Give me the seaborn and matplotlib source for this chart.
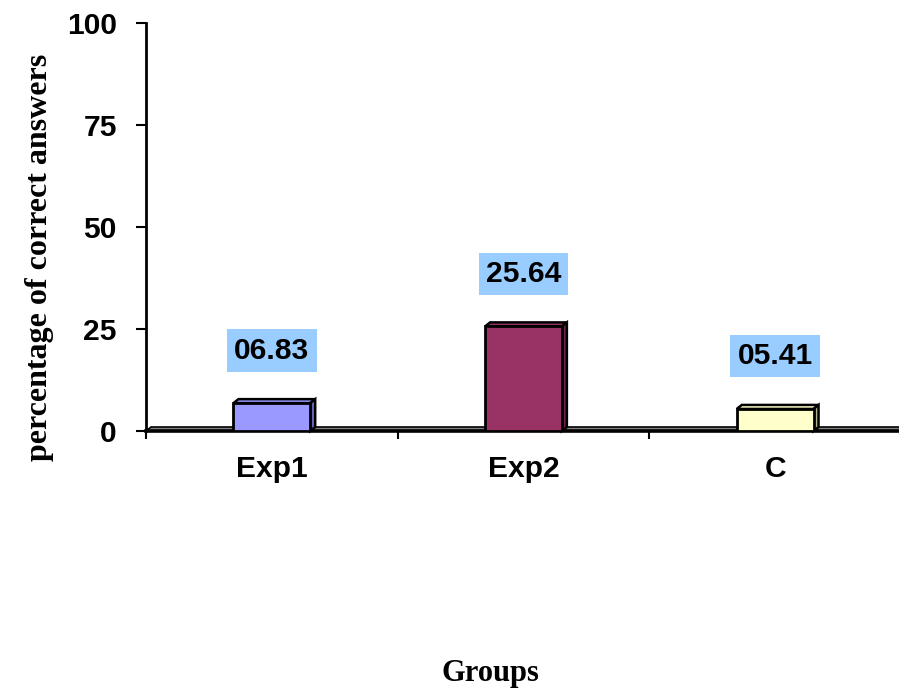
import matplotlib
matplotlib.use("Agg")
import matplotlib.pyplot as plt
from matplotlib.patches import Polygon
import seaborn as sns

# Data
groups = ["Exp1", "Exp2", "C"]
values = [6.83, 25.64, 5.41]
value_labels = ["06.83", "25.64", "05.41"]
yticks = [0, 25, 50, 75, 100]

face_colors = ["#9999FF", "#993366", "#FFFFCC"]
side_colors = ["#6666B8", "#6B2447", "#B3B38C"]
label_bg = "#99CCFF"

sns.set_style("white")
plt.rcParams["font.family"] = ["Liberation Sans", "DejaVu Sans"]
plt.rcParams["text.color"] = "black"
plt.rcParams["axes.labelcolor"] = "black"
plt.rcParams["xtick.color"] = "black"
plt.rcParams["ytick.color"] = "black"

W, H = 899, 692
fig = plt.figure(figsize=(W / 100, H / 100), dpi=100)
ax = fig.add_axes([146 / W, (H - 431) / H, (901 - 146) / W, (431 - 23) / H])

sns.barplot(x=groups, y=values, hue=groups, palette=face_colors, width=0.305,
            saturation=1, edgecolor="black", linewidth=2, legend=False, ax=ax, zorder=3)

ax.set_xlim(-0.5, 2.5)
ax.set_ylim(0, 100)

# depth of the pseudo-3D extrusion, in data units
dx = 5 / 252.0
dy = 4 / 4.08

# floor band
floor = Polygon([(-0.5, 0), (2.5, 0), (2.5 + dx, dy), (-0.5 + dx, dy)],
                closed=True, facecolor="#808080", edgecolor="black",
                linewidth=1.2, zorder=1, clip_on=False)
ax.add_patch(floor)

for patch, side in zip(ax.patches[:len(values)], side_colors):
    x0 = patch.get_x()
    w = patch.get_width()
    h = patch.get_height()
    fc = patch.get_facecolor()
    top = Polygon([(x0, h), (x0 + w, h), (x0 + w + dx, h + dy), (x0 + dx, h + dy)],
                  closed=True, facecolor=fc, edgecolor="black", linewidth=1.8,
                  zorder=2.9, clip_on=False)
    right = Polygon([(x0 + w, 0), (x0 + w + dx, dy), (x0 + w + dx, h + dy), (x0 + w, h)],
                    closed=True, facecolor=side, edgecolor="black", linewidth=1.8,
                    zorder=2.9, clip_on=False)
    ax.add_patch(top)
    ax.add_patch(right)

# value labels in blue boxes
for i, (v, txt) in enumerate(zip(values, value_labels)):
    ax.text(i, v + 12.9, txt, ha="center", va="center", fontsize=21.6,
            fontweight="bold", color="black", zorder=5,
            bbox=dict(boxstyle="square,pad=0.24", facecolor=label_bg, edgecolor="none"))

# spines
for s in ["top", "right"]:
    ax.spines[s].set_visible(False)
ax.spines["left"].set_linewidth(2)
ax.spines["left"].set_color("black")
ax.spines["bottom"].set_linewidth(2.6)
ax.spines["bottom"].set_color("black")
ax.spines["bottom"].set_zorder(2)

ax.set_yticks(yticks)
ax.set_yticklabels([str(t) for t in yticks], fontsize=21.6, fontweight="bold")
ax.tick_params(axis="y", direction="out", length=7, width=1.5, pad=14, color="black",
               labelcolor="black", left=True)

ax.set_xticks(range(len(groups)))
ax.set_xticklabels(groups, fontsize=21.6, fontweight="bold")
ax.set_xticks([-0.5, 0.5, 1.5, 2.5], minor=True)
ax.tick_params(axis="x", which="major", length=0, pad=17, labelcolor="black")
ax.tick_params(axis="x", which="minor", direction="out", length=6, width=1.5,
               color="black", bottom=True)
ax.set_xlabel("")
ax.set_ylabel("")

fig.text(40 / W, 1 - 257 / H, "percentage of correct answers", rotation=90,
         ha="center", va="center", fontsize=23, fontweight="bold", color="black",
         family=["Liberation Serif", "DejaVu Serif"])
fig.text(490 / W, 1 - 673 / H, "Groups", ha="center", va="center", color="black",
         fontsize=22, fontweight="bold", family=["Liberation Serif", "DejaVu Serif"])

fig.savefig("out.png", dpi=100, facecolor="white")
